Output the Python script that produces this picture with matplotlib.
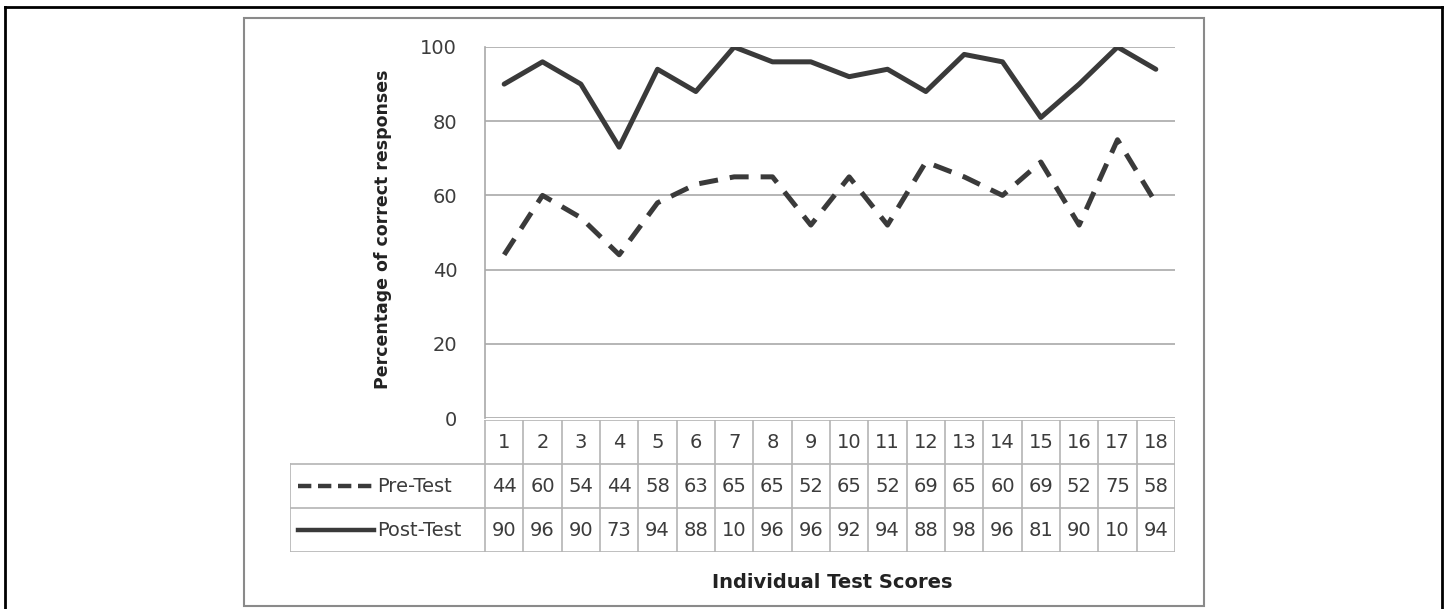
import matplotlib.pyplot as plt
from matplotlib.lines import Line2D
from matplotlib.patches import Rectangle

tests = list(range(1, 19))
pre_test = [44, 60, 54, 44, 58, 63, 65, 65, 52, 65, 52, 69, 65, 60, 69, 52, 75, 58]
post_test = [90, 96, 90, 73, 94, 88, 100, 96, 96, 92, 94, 88, 98, 96, 81, 90, 100, 94]
series_names = ["Pre-Test", "Post-Test"]
yticks = [0, 20, 40, 60, 80, 100]

W, H = 1447, 609
line_col = "#3a3a3a"
grid_col = "#a9a9a9"
text_col = "#3c3c3c"


def fx(px):
    return px / W


def fy(py):
    return 1 - py / H


fig = plt.figure(figsize=(W / 100, H / 100), dpi=100)

# outer black frame and the grey chart box
for xs, ys in [([5, 5], [7, H + 5]), ([5, 1442], [7, 7]), ([1442, 1442], [7, H + 5])]:
    fig.add_artist(Line2D([fx(v) for v in xs], [fy(v) for v in ys],
                          transform=fig.transFigure, color="black", lw=2))
fig.add_artist(Rectangle((fx(244), fy(606)), fx(1204) - fx(244), fy(18) - fy(606),
                         transform=fig.transFigure, fill=False,
                         edgecolor="#8a8a8a", lw=1.5))

# main plot
ax = fig.add_axes([fx(485), fy(418), fx(1175) - fx(485), fy(47) - fy(418)])
ax.set_xlim(0.5, 18.5)
ax.set_ylim(0, 100)
for s in ["top", "right", "bottom"]:
    ax.spines[s].set_visible(False)
ax.spines["left"].set_color(grid_col)
ax.spines["left"].set_linewidth(1.2)
ax.set_yticks(yticks)
ax.set_xticks([])
ax.tick_params(axis="y", length=0, pad=20, labelsize=14, labelcolor=text_col)
for t in yticks:
    ax.axhline(t, color=grid_col, lw=1.2, zorder=0)

ax.plot(tests, pre_test, color=line_col, lw=3.6, linestyle=(0, (3.8, 2.4)),
        dash_capstyle="butt", dash_joinstyle="round")
ax.plot(tests, post_test, color=line_col, lw=3.6, solid_capstyle="round",
        solid_joinstyle="round")

# data table under the plot
col_w = (1175 - 485) / len(tests)
left = 0.5 - (485 - 290) / col_w
tab = fig.add_axes([fx(290), fy(552), fx(1175) - fx(290), fy(420) - fy(552)])
tab.set_xlim(left, 18.5)
tab.set_ylim(3, 0)
tab.axis("off")

tcol = "#b4b4b4"
tab.plot([0.5, 18.5], [0, 0], color=tcol, lw=1.2)
for r in [1, 2, 3]:
    tab.plot([left, 18.5], [r, r], color=tcol, lw=1.2)
tab.plot([left, left], [1, 3], color=tcol, lw=1.2)
for k in range(len(tests) + 1):
    tab.plot([0.5 + k, 0.5 + k], [0, 3], color=tcol, lw=1.2)

for i, t in enumerate(tests):
    tab.text(t, 0.52, str(t), ha="center", va="center", fontsize=14, color=text_col)
    tab.text(t, 1.5, str(pre_test[i])[:2], ha="center", va="center", fontsize=14, color=text_col)
    tab.text(t, 2.5, str(post_test[i])[:2], ha="center", va="center", fontsize=14, color=text_col)

# legend keys inside the table
lx0 = left + (298 - 290) / col_w
lx1 = 0.5 + (374 - 485) / col_w
tx = 0.5 + (377 - 485) / col_w
tab.plot([lx0, lx1], [1.5, 1.5], color=line_col, lw=3.2, linestyle=(0, (3, 1.5)))
tab.plot([lx0, lx1], [2.5, 2.5], color=line_col, lw=3.2)
tab.text(tx, 1.5, series_names[0], ha="left", va="center", fontsize=14, color=text_col)
tab.text(tx, 2.5, series_names[1], ha="left", va="center", fontsize=14, color=text_col)

# axis titles
fig.text(fx(383), fy(229), "Percentage of correct responses", rotation=90,
         ha="center", va="center", fontsize=12.5, fontweight="bold", color="#222222")
fig.text(fx(832), fy(582), "Individual Test Scores", ha="center", va="center",
         fontsize=14, fontweight="bold", color="#222222")

fig.savefig("out.png", dpi=100, facecolor="white")
